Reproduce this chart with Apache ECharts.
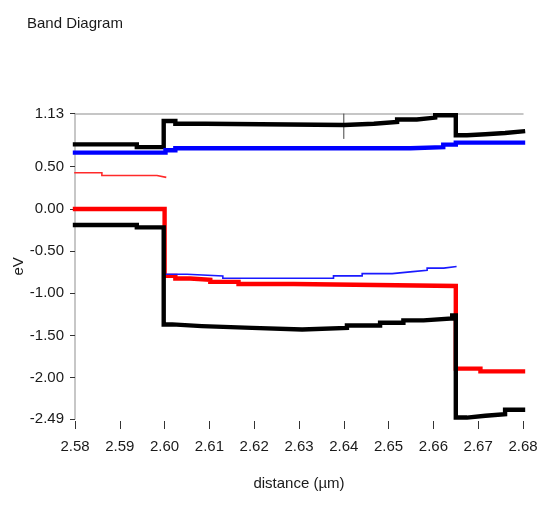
<!DOCTYPE html>
<html>
<head>
    <meta charset="utf-8">
    <title>Band Diagram</title>
    <script src="https://cdn.jsdelivr.net/npm/echarts@6/dist/echarts.min.js"></script>
    <style>
        html, body { margin: 0; padding: 0; background: #fff; }
        #chart1 { width: 537px; height: 509px; }
    </style>
</head>
<body>
<div id="chart1"></div>
<script>
    // 刻度
    var xTicks = [2.58, 2.59, 2.60, 2.61, 2.62, 2.63, 2.64, 2.65, 2.66, 2.67, 2.68];
    var yTicks = [-2.49, -2.00, -1.50, -1.00, -0.50, 0.00, 0.50, 1.13];

    // 导带 (黑色上)
    var ecX = [2.58, 2.5938, 2.5998, 2.6024, 2.6091, 2.6401, 2.6467, 2.6519, 2.6563, 2.6604, 2.665, 2.6675, 2.6716, 2.676, 2.68];
    var ecY = [0.765, 0.733, 1.043, 1.01, 0.995, 1.01, 1.03, 1.06, 1.083, 1.11, 0.873, 0.885, 0.90, 0.92, 0.92];
    // 蓝色粗线
    var fnX = [2.58, 2.6002, 2.6024, 2.6549, 2.6622, 2.665, 2.68];
    var fnY = [0.667, 0.695, 0.72, 0.733, 0.762, 0.786, 0.786];
    // 红色细线
    var trX = [2.58, 2.586, 2.5983, 2.6002];
    var trY = [0.429, 0.396, 0.376, 0.376];
    // 红色粗线
    var fpX = [2.58, 2.6, 2.6024, 2.6057, 2.6102, 2.6165, 2.6288, 2.665, 2.6705, 2.68];
    var fpY = [0.0, -0.794, -0.825, -0.84, -0.865, -0.89, -0.913, -1.893, -1.925, -1.925];
    // 蓝色细线
    var tbX = [2.6002, 2.605, 2.613, 2.6377, 2.6441, 2.6508, 2.6548, 2.6586, 2.6623, 2.665];
    var tbY = [-0.774, -0.794, -0.821, -0.794, -0.767, -0.746, -0.726, -0.702, -0.683, -0.683];
    // 价带 (黑色下)
    var evX = [2.58, 2.5938, 2.5998, 2.6017, 2.6083, 2.6195, 2.6307, 2.6407, 2.6481, 2.6533, 2.6578, 2.6642, 2.665, 2.6675, 2.6716, 2.676, 2.68];
    var evY = [-0.19, -0.219, -1.369, -1.389, -1.41, -1.429, -1.41, -1.381, -1.35, -1.321, -1.298, -1.262, -2.473, -2.452, -2.433, -2.38, -2.38];
    // 光标
    var cursorX = 2.64;
    var cursorY = [1.13, 0.83];

    var font = "'Liberation Sans', Arial, sans-serif";
    var textColor = '#1a1a1a';

    function pairs(xs, ys) {
        var d = [];
        for (var i = 0; i < xs.length; i++) d.push([xs[i], ys[i]]);
        return d;
    }

    function band(name, xs, ys, color, width) {
        return {
            name: name,
            type: 'line',
            step: 'end',
            symbol: 'none',
            data: pairs(xs, ys),
            lineStyle: { color: color, width: width, cap: 'square', join: 'miter' }
        };
    }

    var myChart1 = echarts.init(document.getElementById('chart1'));
    myChart1.setOption({
        animation: false,
        title: {
            text: 'Band Diagram',
            left: 22,
            top: 11,
            textStyle: { fontFamily: font, fontSize: 15, fontWeight: 'normal', color: textColor }
        },
        grid: {
            left: 75, right: 14, top: 113.6, bottom: 90,
            containLabel: false,
            outerBoundsMode: 'none'
        },
        xAxis: [{
            type: 'value',
            min: 2.58,
            max: 2.68,
            interval: 0.01,
            offset: 2,
            name: 'distance (µm)',
            nameLocation: 'middle',
            nameGap: 55,
            nameMoveOverlap: false,
            nameTextStyle: { fontFamily: font, fontSize: 15, color: textColor },
            axisLine: { show: false, onZero: false },
            axisTick: { show: true, length: 8, lineStyle: { color: '#333' } },
            axisLabel: {
                margin: 18,
                fontFamily: font, fontSize: 15, color: textColor,
                formatter: function (v) { return v.toFixed(2); }
            },
            splitLine: { show: false }
        }, {
            type: 'value',
            position: 'top',
            min: 2.58,
            max: 2.68,
            axisLine: { show: true, onZero: false, lineStyle: { color: '#b4b4b4', width: 1.5 } },
            axisTick: { show: false },
            axisLabel: { show: false },
            splitLine: { show: false }
        }],
        yAxis: {
            type: 'value',
            min: -2.49,
            max: 1.13,
            name: 'eV',
            nameLocation: 'middle',
            nameGap: 49,
            nameRotate: 90,
            nameMoveOverlap: false,
            nameTextStyle: { fontFamily: font, fontSize: 15, color: textColor },
            axisLine: { show: true, onZero: false, lineStyle: { color: '#b4b4b4', width: 1.5 } },
            axisTick: { show: true, length: 5, customValues: yTicks, lineStyle: { color: '#333' } },
            axisLabel: {
                margin: 11,
                customValues: yTicks,
                fontFamily: font, fontSize: 15, color: textColor,
                formatter: function (v) { return v.toFixed(2); }
            },
            splitLine: { show: false }
        },
        series: [
            band('Ec', ecX, ecY, '#000000', 4.4),
            band('EFn', fnX, fnY, '#0000ff', 4.4),
            band('thin red', trX, trY, '#ff2a2a', 1.6),
            band('EFp', fpX, fpY, '#ff0000', 4.4),
            band('thin blue', tbX, tbY, '#1a1aff', 1.6),
            band('Ev', evX, evY, '#000000', 4.4),
            {
                name: 'cursor',
                type: 'line',
                symbol: 'none',
                data: [[cursorX, cursorY[0]], [cursorX, cursorY[1]]],
                lineStyle: { color: '#444', width: 1 },
                z: 1
            }
        ]
    });
</script>
</body>
</html>
